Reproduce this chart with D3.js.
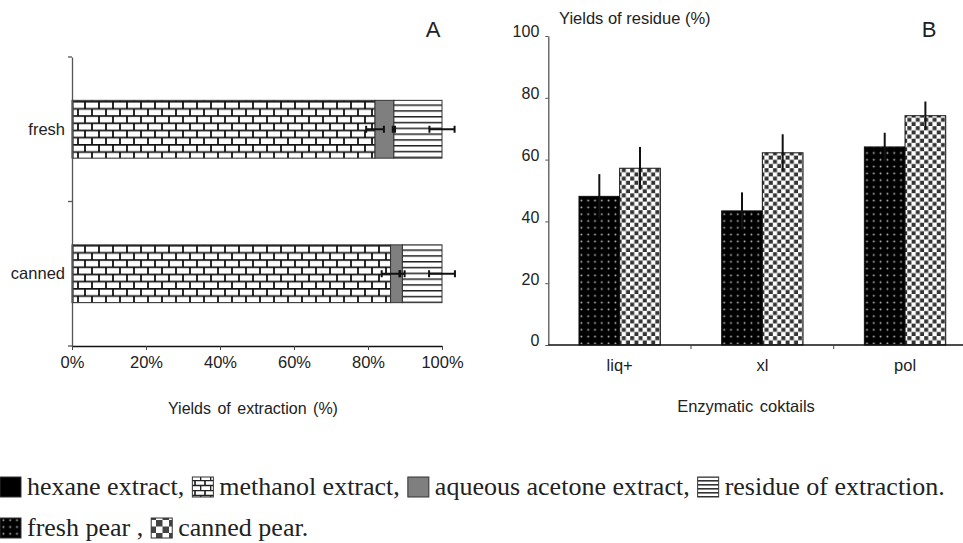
<!DOCTYPE html>
<html>
<head>
<meta charset="utf-8">
<script src="https://cdn.jsdelivr.net/npm/d3@7"></script>
<style>
  body { margin: 0; background: #fff; }
  svg { display: block; }
  .tick text, .lbl { font-family: "Liberation Sans", Arial, sans-serif; fill: #222; }
  .legend text { font-family: "Liberation Serif", "Times New Roman", serif; fill: #222; }
</style>
</head>
<body>
<div id="chart"></div>
<script>
// panel A - extraction yields (% of total)
const sampleCats = ["fresh", "canned"];
const hexane = [0.3, 0.3];
const methanol = [81.6, 85.8];
const acetone = [5.1, 3.2];
const residue = [13.0, 10.7];
const methanolErr = [2.4, 2.4];
const acetoneErr = [0.3, 0.6];
const residueErr = [3.4, 3.5];
const pctTicks = [0, 20, 40, 60, 80, 100];

// panel B - yields of residue after enzymes
const enzymes = ["liq+", "xl", "pol"];
const freshPear = [48.1, 43.4, 64.1];
const cannedPear = [57.2, 62.2, 74.2];
const freshErr = [7.2, 6.0, 4.6];
const cannedErr = [6.9, 6.0, 4.6];
const residueTicks = [0, 20, 40, 60, 80, 100];

let svg = d3.select("#chart")
    .append("svg")
    .attr("width", 963)
    .attr("height", 543);

// fill patterns
let defs = svg.append("defs");

let brick = defs.append("pattern").attr("id", "brick")
    .attr("patternUnits", "userSpaceOnUse")
    .attr("width", 14).attr("height", 14.4);
brick.append("rect").attr("width", 14).attr("height", 14.4).attr("fill", "#fff");
brick.append("path")
    .attr("d", "M0,0.8H14M0,8H14M1,0V7.2M8,7.2V14.4")
    .attr("stroke", "#111").attr("stroke-width", 1.8).attr("fill", "none");

let stripes = defs.append("pattern").attr("id", "stripes")
    .attr("patternUnits", "userSpaceOnUse")
    .attr("width", 10).attr("height", 5.8);
stripes.append("rect").attr("width", 10).attr("height", 5.8).attr("fill", "#fff");
stripes.append("rect").attr("y", 0).attr("width", 10).attr("height", 1.5).attr("fill", "#222");

let dots = defs.append("pattern").attr("id", "dots")
    .attr("patternUnits", "userSpaceOnUse")
    .attr("width", 6.8).attr("height", 6.8);
dots.append("rect").attr("width", 6.8).attr("height", 6.8).attr("fill", "#000");
dots.append("circle").attr("cx", 3.4).attr("cy", 3.4).attr("r", 0.95).attr("fill", "#bbb");

let checker = defs.append("pattern").attr("id", "checker")
    .attr("patternUnits", "userSpaceOnUse")
    .attr("width", 8.4).attr("height", 8.4);
checker.append("rect").attr("width", 8.4).attr("height", 8.4).attr("fill", "#fff");
checker.append("rect").attr("x", 0.2).attr("y", 0.2).attr("width", 4).attr("height", 4).attr("fill", "#333");
checker.append("rect").attr("x", 4.4).attr("y", 4.4).attr("width", 4).attr("height", 4).attr("fill", "#333");

// small versions for the legend icons
let brickS = defs.append("pattern").attr("id", "brickS")
    .attr("patternUnits", "userSpaceOnUse")
    .attr("width", 10).attr("height", 10);
brickS.append("rect").attr("width", 10).attr("height", 10).attr("fill", "#fff");
brickS.append("path")
    .attr("d", "M0,0.5H10M0,5.5H10M5,0V5M0.5,5V10")
    .attr("stroke", "#222").attr("stroke-width", 1.7).attr("fill", "none");

let stripesS = defs.append("pattern").attr("id", "stripesS")
    .attr("patternUnits", "userSpaceOnUse")
    .attr("width", 6).attr("height", 4);
stripesS.append("rect").attr("width", 6).attr("height", 4).attr("fill", "#fff");
stripesS.append("rect").attr("width", 6).attr("height", 1.6).attr("fill", "#333");

let checkerS = defs.append("pattern").attr("id", "checkerS")
    .attr("patternUnits", "userSpaceOnUse")
    .attr("width", 13).attr("height", 13);
checkerS.append("rect").attr("width", 13).attr("height", 13).attr("fill", "#fff");
checkerS.append("rect").attr("width", 6.5).attr("height", 6.5).attr("fill", "#444");
checkerS.append("rect").attr("x", 6.5).attr("y", 6.5).attr("width", 6.5).attr("height", 6.5).attr("fill", "#444");

// ---------------- panel A ----------------
let xA = d3.scaleLinear().domain([0, 100]).range([72, 442]);
let yA = d3.scaleBand().domain(sampleCats).range([57, 346])
    .paddingInner(0.6).paddingOuter(0.3);

let gA = svg.append("g");

// stack the segments
let segNames = ["hexane", "methanol", "acetone", "residue"];
let segVals = [hexane, methanol, acetone, residue];
let segFill = ["#000", "url(#brick)", "#7f7f7f", "url(#stripes)"];
let stacked = [];
sampleCats.forEach(function(c, i) {
    let x0 = 0;
    segVals.forEach(function(arr, k) {
        stacked.push({cat: c, seg: segNames[k], x0: x0, x1: x0 + arr[i], fill: segFill[k]});
        x0 += arr[i];
    });
});

gA.selectAll("rect.seg")
    .data(stacked)
    .enter()
    .append("rect")
    .attr("class", "seg")
    .attr("x", d => xA(d.x0))
    .attr("y", d => yA(d.cat))
    .attr("width", d => xA(d.x1) - xA(d.x0))
    .attr("height", yA.bandwidth())
    .attr("fill", d => d.fill)
    .attr("stroke", "#333")
    .attr("stroke-width", 1);

// horizontal error bars at the end of each segment
let errA = [];
sampleCats.forEach(function(c, i) {
    let m = hexane[i] + methanol[i];
    let a = m + acetone[i];
    let r = a + residue[i];
    errA.push({cat: c, v: m, e: methanolErr[i]});
    errA.push({cat: c, v: a, e: acetoneErr[i]});
    errA.push({cat: c, v: r, e: residueErr[i]});
});
let eb = gA.selectAll("g.err")
    .data(errA)
    .enter()
    .append("g")
    .attr("class", "err")
    .attr("transform", d => `translate(0, ${yA(d.cat) + yA.bandwidth() / 2})`);
eb.append("line")
    .attr("x1", d => xA(d.v - d.e)).attr("x2", d => xA(d.v + d.e))
    .attr("stroke", "#111").attr("stroke-width", 2);
eb.append("line")
    .attr("x1", d => xA(d.v - d.e)).attr("x2", d => xA(d.v - d.e))
    .attr("y1", -3.5).attr("y2", 3.5)
    .attr("stroke", "#111").attr("stroke-width", 2);
eb.append("line")
    .attr("x1", d => xA(d.v + d.e)).attr("x2", d => xA(d.v + d.e))
    .attr("y1", -3.5).attr("y2", 3.5)
    .attr("stroke", "#111").attr("stroke-width", 2);

// axes of panel A
let xAxisA = d3.axisBottom(xA).tickValues(pctTicks)
    .tickFormat(d => d + "%").tickSize(4).tickSizeOuter(0);
gA.append("g")
    .attr("transform", "translate(0, 346)")
    .call(xAxisA)
    .call(g => g.select(".domain").attr("stroke", "#111").attr("stroke-width", 1.5))
    .call(g => g.selectAll(".tick line").attr("stroke", "#444"))
    .call(g => g.selectAll(".tick text").attr("font-size", "16.5px").attr("dy", "0.9em"));

let yAxisA = d3.axisLeft(yA).tickSize(0).tickPadding(7);
gA.append("g")
    .attr("transform", "translate(72, 0)")
    .call(yAxisA)
    .call(g => g.select(".domain").attr("stroke", "#555").attr("stroke-width", 1.3))
    .call(g => g.selectAll(".tick text").attr("font-size", "16.5px"));

// boundary ticks between categories
let bounds = [yA.range()[0]].concat(sampleCats.map(c => yA(c) + yA.bandwidth() + yA.step() * yA.paddingInner() / 2));
gA.selectAll("line.btick")
    .data(bounds)
    .enter()
    .append("line")
    .attr("x1", 68).attr("x2", 72)
    .attr("y1", d => d).attr("y2", d => d)
    .attr("stroke", "#555").attr("stroke-width", 1.3);

gA.append("text")
    .attr("class", "lbl")
    .attr("x", 253).attr("y", 414)
    .attr("text-anchor", "middle")
    .attr("font-size", "16px")
    .attr("word-spacing", "2px")
    .text("Yields of extraction  (%)");

gA.append("text")
    .attr("class", "lbl")
    .attr("x", 433).attr("y", 37)
    .attr("text-anchor", "middle")
    .attr("font-size", "22px")
    .text("A");

// ---------------- panel B ----------------
let yB = d3.scaleLinear().domain([0, 100]).range([345, 36]);
let xB = d3.scaleBand().domain(enzymes).range([548.3, 976.4])
    .paddingInner(0.43).paddingOuter(0.215);
let series = ["fresh", "canned"];
let xSub = d3.scaleBand().domain(series).range([0, xB.bandwidth()]);

let gB = svg.append("g");

let barsB = [];
enzymes.forEach(function(e, i) {
    barsB.push({enz: e, s: "fresh", v: freshPear[i], err: freshErr[i], fill: "url(#dots)"});
    barsB.push({enz: e, s: "canned", v: cannedPear[i], err: cannedErr[i], fill: "url(#checker)"});
});

gB.selectAll("rect.bar")
    .data(barsB)
    .enter()
    .append("rect")
    .attr("class", "bar")
    .attr("x", d => xB(d.enz) + xSub(d.s))
    .attr("y", d => yB(d.v))
    .attr("width", xSub.bandwidth())
    .attr("height", d => yB(0) - yB(d.v))
    .attr("fill", d => d.fill)
    .attr("stroke", "#111")
    .attr("stroke-width", 1);

gB.selectAll("line.errB")
    .data(barsB)
    .enter()
    .append("line")
    .attr("class", "errB")
    .attr("x1", d => xB(d.enz) + xSub(d.s) + xSub.bandwidth() / 2)
    .attr("x2", d => xB(d.enz) + xSub(d.s) + xSub.bandwidth() / 2)
    .attr("y1", d => yB(d.v + d.err))
    .attr("y2", d => yB(d.v - d.err))
    .attr("stroke", "#111")
    .attr("stroke-width", 2);

let yAxisB = d3.axisLeft(yB).tickValues(residueTicks).tickSize(3).tickSizeOuter(0).tickPadding(6);
gB.append("g")
    .attr("transform", "translate(548.3, 0)")
    .call(yAxisB)
    .call(g => g.select(".domain").attr("stroke", "#555").attr("stroke-width", 1.3))
    .call(g => g.selectAll(".tick line").attr("stroke", "#555"))
    .call(g => g.selectAll(".tick text").attr("font-size", "16px").attr("dy", "0.05em"));

// x axis of panel B: line, boundary ticks and labels at band centres
gB.append("line")
    .attr("x1", xB.range()[0]).attr("x2", xB.range()[1])
    .attr("y1", yB(0)).attr("y2", yB(0))
    .attr("stroke", "#111").attr("stroke-width", 1.5);
gB.selectAll("line.btickB")
    .data(enzymes.slice(1))
    .enter()
    .append("line")
    .attr("x1", d => xB(d) - xB.step() * xB.paddingInner() / 2)
    .attr("x2", d => xB(d) - xB.step() * xB.paddingInner() / 2)
    .attr("y1", yB(0)).attr("y2", yB(0) + 4)
    .attr("stroke", "#444");
gB.selectAll("text.enz")
    .data(enzymes)
    .enter()
    .append("text")
    .attr("class", "lbl enz")
    .attr("x", d => xB(d) + xB.bandwidth() / 2)
    .attr("y", 371)
    .attr("text-anchor", "middle")
    .attr("font-size", "16.5px")
    .text(d => d);

gB.append("text")
    .attr("class", "lbl")
    .attr("x", 746).attr("y", 412)
    .attr("text-anchor", "middle")
    .attr("font-size", "16.5px")
    .attr("word-spacing", "2px")
    .text("Enzymatic  coktails");

gB.append("text")
    .attr("class", "lbl")
    .attr("x", 559).attr("y", 24)
    .attr("font-size", "16.5px")
    .text("Yields of residue (%)");

gB.append("text")
    .attr("class", "lbl")
    .attr("x", 929).attr("y", 37)
    .attr("text-anchor", "middle")
    .attr("font-size", "22px")
    .text("B");

// ---------------- legend ----------------
let legendRows = [
    {y: 487, items: [
        {fill: "#000", label: "hexane extract,"},
        {fill: "url(#brickS)", label: "methanol extract,"},
        {fill: "#7f7f7f", label: "aqueous acetone extract,"},
        {fill: "url(#stripesS)", label: "residue of extraction."}
    ]},
    {y: 528, items: [
        {fill: "url(#dots)", label: "fresh pear ,"},
        {fill: "url(#checkerS)", label: "canned pear."}
    ]}
];

let leg = svg.append("g").attr("class", "legend");
legendRows.forEach(function(row) {
    let x = 0;
    row.items.forEach(function(it) {
        leg.append("rect")
            .attr("x", x).attr("y", row.y - 10)
            .attr("width", 21).attr("height", 20)
            .attr("fill", it.fill)
            .attr("stroke", "#333").attr("stroke-width", 1);
        let t = leg.append("text")
            .attr("x", x + 27).attr("y", row.y + 8)
            .attr("font-size", "26px")
            .text(it.label);
        x += 27 + t.node().getComputedTextLength() + 8;
    });
});
</script>
</body>
</html>
